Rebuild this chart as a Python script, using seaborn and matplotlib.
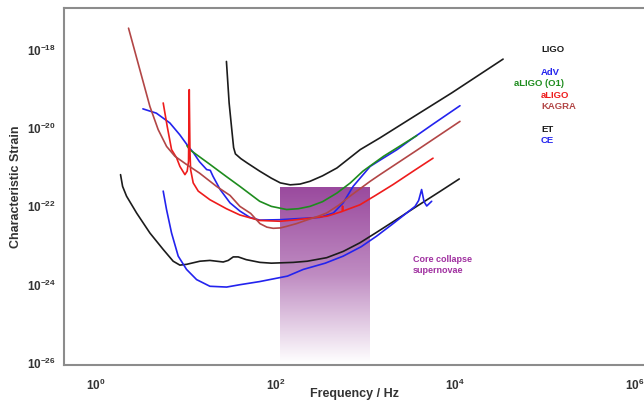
import numpy as np
import pandas as pd
import seaborn as sns
import matplotlib
matplotlib.use('Agg')
import matplotlib.pyplot as plt
from matplotlib.colors import LinearSegmentedColormap
from matplotlib.transforms import ScaledTranslation

# sensitivity curves as log10(f / Hz) and log10(h_c)
ligo_x = [1.40, 1.43, 1.46, 1.48, 1.50, 1.56, 1.63, 1.77, 1.90, 2.00, 2.11, 2.22,
          2.33, 2.47, 2.63, 2.89, 3.11, 3.45, 3.91, 4.48]
ligo_y = [-18.30, -19.36, -20.05, -20.50, -20.66, -20.78, -20.89, -21.10, -21.28,
          -21.40, -21.45, -21.43, -21.36, -21.22, -21.02, -20.55, -20.25, -19.76,
          -19.10, -18.24]

adv_x = [0.47, 0.62, 0.77, 0.88, 0.975, 1.03, 1.10, 1.18, 1.22, 1.25, 1.33, 1.44,
         1.55, 1.66, 1.77, 2.00, 2.14, 2.30, 2.44, 2.59, 2.70, 2.81, 3.00, 3.11,
         3.30, 3.45, 3.70, 4.00]
adv_y = [-19.51, -19.62, -19.87, -20.17, -20.47, -20.62, -20.86, -21.06, -21.08,
         -21.23, -21.57, -21.91, -22.12, -22.28, -22.35, -22.34, -22.32, -22.30,
         -22.28, -22.17, -21.91, -21.49, -20.98, -20.82, -20.55, -20.30, -19.90,
         -19.43]

o1_x = [0.96, 0.99, 1.20, 1.40, 1.55, 1.77, 1.90, 2.07, 2.20, 2.33, 2.47, 2.63,
        2.78, 2.92, 3.15, 3.52]
o1_y = [-20.45, -20.55, -20.90, -21.24, -21.49, -21.87, -22.00, -22.08, -22.06,
        -22.00, -21.88, -21.66, -21.40, -21.10, -20.72, -20.19]

aligo_x = [0.696, 0.74, 0.789, 0.845, 0.882, 0.938, 0.963, 0.978, 0.986, 0.994,
           1.001, 1.03, 1.086, 1.216, 1.40, 1.55, 1.77, 2.00, 2.14, 2.30, 2.52,
           2.688, 2.693, 2.698, 2.886, 3.06, 3.257, 3.50, 3.70]
aligo_y = [-19.36, -19.95, -20.55, -20.76, -20.98, -21.19, -21.10, -20.85, -19.02,
           -20.60, -21.06, -21.40, -21.61, -21.83, -22.06, -22.22, -22.36, -22.38,
           -22.35, -22.31, -22.25, -22.13, -21.99, -22.12, -21.96, -21.72, -21.44,
           -21.07, -20.77]

kagra_x = [0.31, 0.43, 0.548, 0.64, 0.734, 0.826, 0.956, 1.10, 1.29, 1.44, 1.55,
           1.67, 1.773, 1.85, 1.92, 2.00, 2.07, 2.18, 2.293, 2.40, 2.516, 2.65,
           2.775, 3.00, 3.109, 3.518, 4.00]
kagra_y = [-17.45, -18.46, -19.45, -20.04, -20.47, -20.72, -20.93, -21.15, -21.49,
           -21.72, -22.00, -22.18, -22.44, -22.53, -22.56, -22.55, -22.51, -22.44,
           -22.35, -22.27, -22.17, -21.97, -21.74, -21.36, -21.19, -20.57, -19.83]

et_x = [0.221, 0.244, 0.288, 0.40, 0.548, 0.696, 0.807, 0.882, 0.956, 1.105, 1.216,
        1.364, 1.42, 1.476, 1.531, 1.62, 1.773, 1.90, 2.144, 2.30, 2.516, 2.70,
        2.886, 3.06, 3.257, 3.518, 3.777, 3.992]
et_y = [-21.19, -21.49, -21.74, -22.17, -22.68, -23.10, -23.40, -23.50, -23.48,
        -23.40, -23.38, -23.42, -23.38, -23.29, -23.29, -23.36, -23.43, -23.45,
        -23.43, -23.40, -23.31, -23.15, -22.93, -22.68, -22.39, -22.00, -21.62,
        -21.30]

ce_x = [0.696, 0.733, 0.789, 0.863, 0.956, 1.068, 1.216, 1.402, 1.55, 1.77, 2.08,
        2.255, 2.50, 2.70, 2.90, 3.072, 3.25, 3.40, 3.50, 3.54, 3.573, 3.60, 3.63,
        3.685]
ce_y = [-21.61, -22.08, -22.68, -23.27, -23.61, -23.87, -24.04, -24.06, -24.00,
        -23.92, -23.78, -23.61, -23.45, -23.27, -23.03, -22.76, -22.45, -22.18,
        -22.00, -21.85, -21.57, -21.88, -21.99, -21.87]

# core collapse supernova band (Hz, strain)
sn_f = [100, 1000]
sn_top = 10 ** -21.53
sn_bottom = 1e-26

detectors = ['LIGO', 'AdV', 'aLIGO (O1)', 'aLIGO', 'KAGRA', 'ET', 'CE']
colors = ['#1c1c1c', '#2323ee', '#1e8c1e', '#ee1c1c', '#b24646', '#1c1c1c', '#2323ee']
curves = [(ligo_x, ligo_y), (adv_x, adv_y), (o1_x, o1_y), (aligo_x, aligo_y),
          (kagra_x, kagra_y), (et_x, et_y), (ce_x, ce_y)]

xtick_exp = [0, 2, 4, 6]
ytick_exp = [-26, -24, -22, -20, -18]

rows = []
for name, (lx, ly) in zip(detectors, curves):
    for a, b in zip(lx, ly):
        rows.append({'detector': name, 'freq': 10 ** a, 'strain': 10 ** b})
df = pd.DataFrame(rows)

sns.set_style('white')
plt.rcParams['font.family'] = ['Liberation Sans', 'DejaVu Sans']
plt.rcParams['mathtext.fontset'] = 'custom'
plt.rcParams['mathtext.bf'] = 'Liberation Sans:bold'
plt.rcParams['mathtext.rm'] = 'Liberation Sans'

fig = plt.figure(figsize=(6.44, 4.0), dpi=100)
ax = fig.add_axes([0.100, 0.0875, 0.900, 0.892])
ax.set_xscale('log')
ax.set_yscale('log')
ax.set_xlim(10 ** -0.404, 10 ** 6.049)
ax.set_ylim(10 ** -26.05, 10 ** -16.94)

sns.lineplot(data=df, x='freq', y='strain', hue='detector', units='detector',
             hue_order=detectors, palette=dict(zip(detectors, colors)),
             estimator=None, sort=False, legend=False, linewidth=1.2, ax=ax, zorder=3)

# gradient band, placed through the data transform
inv = ax.transAxes.inverted()
(bx0, by0) = inv.transform(ax.transData.transform((sn_f[0], sn_bottom)))
(bx1, by1) = inv.transform(ax.transData.transform((sn_f[1], sn_top)))
cmap = LinearSegmentedColormap.from_list('sn', ['#ffffff', '#bf8cc2', '#9a4a9e'])
grad = np.linspace(1, 0, 256).reshape(-1, 1)
ax.imshow(grad, cmap=cmap, aspect='auto', extent=[bx0, bx1, by0, by1],
          transform=ax.transAxes, zorder=1, vmin=0, vmax=1)

ax.text(0.601, 0.280, 'Core collapse\nsupernovae', transform=ax.transAxes,
        color='#a030a0', fontsize=6.5, fontweight='bold', va='center', linespacing=1.3)

label_y = [0.875, 0.818, 0.790, 0.761, 0.734, 0.676, 0.648]
label_x = [0.840, 0.840, 0.798, 0.840, 0.840, 0.840, 0.840]
for name, c, lx, ly in zip(detectors, colors, label_x, label_y):
    fig.text(lx, ly, name, color=c, fontsize=6.8, fontweight='bold', va='center')

ax.set_xticks([10.0 ** e for e in xtick_exp])
ax.set_xticklabels([r'$\mathbf{10^{%d}}$' % e for e in xtick_exp])
ax.set_yticks([10.0 ** e for e in ytick_exp])
ax.set_yticklabels([r'$\mathbf{10^{%d}}$' % e for e in ytick_exp])
ax.minorticks_off()
ax.tick_params(axis='both', length=2, width=0.8, color='#999999', labelsize=8.5,
               labelcolor='#333333')
ax.tick_params(axis='x', pad=7)
ax.tick_params(axis='y', pad=4)
shift = ScaledTranslation(-5 / 100, 0, fig.dpi_scale_trans)
for lab in ax.get_xticklabels():
    lab.set_transform(lab.get_transform() + shift)

ax.set_xlabel('Frequency / Hz', fontsize=9, fontweight='bold', color='#333333')
ax.set_ylabel('Characteristic Strain', fontsize=9, fontweight='bold', color='#333333')
ax.xaxis.set_label_coords(0.5, -0.064)
ax.yaxis.set_label_coords(-0.074, 0.5)

for side in ['left', 'bottom', 'top']:
    ax.spines[side].set_color('#8c8c8c')
    ax.spines[side].set_linewidth(1.5)
ax.spines['right'].set_visible(False)

fig.savefig('out.png', dpi=100)
